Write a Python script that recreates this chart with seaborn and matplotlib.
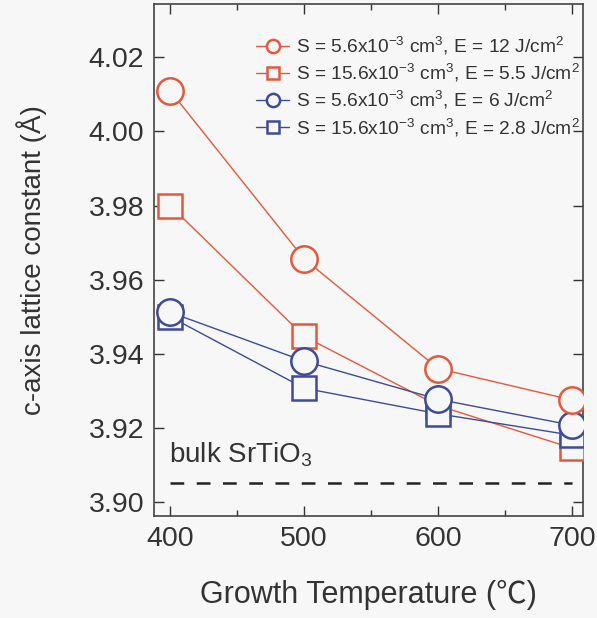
import numpy as np
import pandas as pd
import matplotlib
matplotlib.use("Agg")
import matplotlib.pyplot as plt
import seaborn as sns
from matplotlib.ticker import MultipleLocator, FormatStrFormatter

temps = [400, 500, 600, 700]
red_circle = [4.011, 3.9656, 3.936, 3.9275]
red_square = [3.980, 3.9447, 3.926, 3.9145]
blue_circle = [3.9512, 3.938, 3.9277, 3.9207]
blue_square = [3.9500, 3.9307, 3.9238, 3.9180]
bulk_value = 3.905
bulk_range = [400, 700]

labels = [
    r"S = 5.6x10$^{-3}$ cm$^3$, E = 12 J/cm$^2$",
    r"S = 15.6x10$^{-3}$ cm$^3$, E = 5.5 J/cm$^2$",
    r"S = 5.6x10$^{-3}$ cm$^3$, E = 6 J/cm$^2$",
    r"S = 15.6x10$^{-3}$ cm$^3$, E = 2.8 J/cm$^2$",
]
series = [red_circle, red_square, blue_circle, blue_square]
colors = ["#e5583c", "#e5583c", "#3d4b98", "#3d4b98"]
markers = ["o", "s", "o", "s"]
msizes = [19, 17, 19, 17]
zorders = [6, 3, 5, 4]
bg = "#f7f7f7"

sns.set_theme(style="ticks")
plt.rcParams["font.family"] = ["Liberation Sans", "Noto Sans CJK JP", "DejaVu Sans"]
plt.rcParams["mathtext.fontset"] = "custom"
plt.rcParams["mathtext.rm"] = "Liberation Sans"
plt.rcParams["mathtext.it"] = "Liberation Sans:italic"

fig = plt.figure(figsize=(5.97, 6.18), dpi=100)
fig.patch.set_facecolor(bg)
ax = fig.add_axes([0.258, 0.165, 0.7185, 0.8285])
ax.set_facecolor(bg)

for vals, lab, c, m, ms, z in zip(series, labels, colors, markers, msizes, zorders):
    df = pd.DataFrame({"T": temps, "c": vals})
    sns.lineplot(data=df, x="T", y="c", ax=ax, color=c, marker=m,
                 markersize=ms, markerfacecolor=bg, markeredgecolor=c,
                 markeredgewidth=1.8, linewidth=1.0, label=lab, zorder=z)

bdf = pd.DataFrame({"T": bulk_range, "c": [bulk_value, bulk_value]})
sns.lineplot(data=bdf, x="T", y="c", ax=ax, color="#222222",
             linestyle=(0, (5.5, 5.0)), linewidth=1.8, zorder=1)
ax.text(399, 3.9090, r"bulk SrTiO$_3$", fontsize=20, color="#333333",
        ha="left", va="bottom")

ax.set_xlim(388, 708)
ax.set_ylim(3.8962, 4.0344)
ax.set_xticks([400, 500, 600, 700])
ax.xaxis.set_minor_locator(MultipleLocator(50))
ax.yaxis.set_major_locator(MultipleLocator(0.02))
ax.yaxis.set_major_formatter(FormatStrFormatter("%.2f"))
ax.tick_params(which="both", direction="in", top=True, right=True,
               labelsize=20.5, colors="#333333", pad=7)
ax.tick_params(which="major", length=7, width=1.0)
ax.tick_params(which="minor", length=4, width=1.0)
for s in ax.spines.values():
    s.set_color("#444444")
    s.set_linewidth(1.2)

ax.set_xlabel("Growth Temperature (℃)", fontsize=22, color="#333333", labelpad=20)
ax.set_ylabel("c-axis lattice constant (Å)", fontsize=20, color="#333333", labelpad=30)

handles, labs = ax.get_legend_handles_labels()
leg = ax.legend(handles[:4], labs[:4], loc="upper right", frameon=False,
                fontsize=13.8, markerscale=0.5,
                handlelength=1.7, handletextpad=0.35, labelspacing=0.27,
                borderaxespad=0.0, bbox_to_anchor=(1.01, 0.955))
for t in leg.get_texts():
    t.set_color("#333333")

fig.savefig("out.png", dpi=100, facecolor=fig.get_facecolor())
